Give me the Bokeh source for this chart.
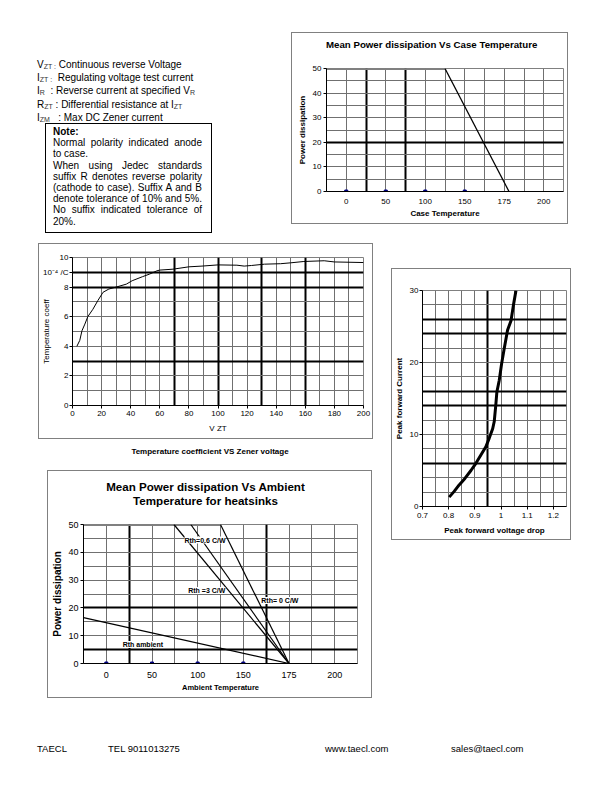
import numpy as np
from bokeh.plotting import figure
from bokeh.models import FixedTicker, Grid, Label, Spacer, Div, Range1d
from bokeh.layouts import row, column
from bokeh.embed import file_html
from bokeh.resources import INLINE

FONT = "Liberation Sans"

# ---------------- data ----------------
# Chart 1: Mean power dissipation vs case temperature (Excel category axis)
case_title = "Mean Power dissipation Vs Case Temperature"
case_categories = [0, 50, 100, 150, 175, 200]
case_flat_temp = [-25, 125]
case_flat_power = [50, 50]
case_derate_temp = [125, 178]
case_derate_power = [50, 0]
zero_temp = [0, 50, 100, 150]
zero_power = [0, 0, 0, 0]
case_y_ticks = [0, 10, 20, 30, 40, 50]
case_thick_temp = [25, 75]
case_thick_power = [20]

# Chart 2: Temperature coefficient vs Zener voltage
vzt = [3, 5, 6.5, 8.5, 10.5, 14, 17.5, 21, 25, 30, 37, 41, 48, 53, 58, 60,
       69, 80, 89, 100, 113, 118, 123, 132, 143, 150, 159, 173, 180, 200]
tcoef = [4.0, 4.4, 5.05, 5.5, 6.0, 6.5, 7.1, 7.65, 7.87, 8.0, 8.2, 8.43, 8.7,
         8.88, 9.1, 9.15, 9.21, 9.37, 9.42, 9.5, 9.48, 9.42, 9.46, 9.55, 9.58,
         9.64, 9.73, 9.78, 9.7, 9.66]
tc_x_ticks = [0, 20, 40, 60, 80, 100, 120, 140, 160, 180, 200]
tc_y_ticks = [0, 2, 4, 6, 8, 9, 10]
tc_y_labels = ["0", "2", "4", "6", "8", "10\u207b\u2074 /C", "10"]
tc_thick_x = [70, 100, 130, 160]
tc_thick_y = [3, 8, 9]

# Chart 3: Peak forward current vs forward voltage drop
vf = [0.802, 0.821, 0.840, 0.862, 0.885, 0.904, 0.923, 0.942, 0.955, 0.968,
      0.974, 0.980, 0.984, 0.993, 1.002, 1.012, 1.025, 1.038, 1.047, 1.057]
ifwd = [1.3, 2.1, 3.0, 3.9, 5.0, 6.0, 7.15, 8.3, 9.5, 10.8,
        11.8, 14.1, 15.9, 17.5, 19.8, 21.9, 24.5, 25.8, 27.9, 30.0]
vf_ticks = [0.7, 0.8, 0.9, 1.0, 1.1, 1.2]
vf_labels = ["0.7", "0.8", "0.9", "1", "1.1", "1.2"]
if_ticks = [0, 10, 20, 30]
vf_thick = [0.95]
if_thick = [6, 14, 16, 24, 26]

# Chart 4: Mean power dissipation vs ambient temperature for heatsinks
amb_title = ["Mean Power dissipation Vs Ambient", "Temperature for heatsinks"]
amb_categories = [0, 50, 100, 150, 175, 200]
amb_flat_temp = [-25, 125]
amb_flat_power = [50, 50]
rth0_temp = [125, 175]
rth0_power = [50, 0]
rth06_temp = [92.5, 175]
rth06_power = [50, 0]
rth3_temp = [74, 175]
rth3_power = [50, 0]
rthamb_temp = [-25, 175]
rthamb_power = [16.5, 0]
amb_label_text = ["Rth=0.6 C/W", "Rth =3 C/W", "Rth= 0 C/W", "Rth ambient"]
amb_label_temp = [108, 110, 170, 40]
amb_label_power = [44.4, 26.3, 22.7, 6.8]
amb_y_ticks = [0, 10, 20, 30, 40, 50]
amb_thick_temp = [25, 162.5]
amb_thick_power = [5, 20]


def cat_index(temps, cats):
    t = np.asarray(temps, dtype=float)
    c = np.asarray(cats, dtype=float)
    pos = np.arange(len(c), dtype=float)
    idx = np.interp(t, c, pos)
    lo = t < c[0]
    idx[lo] = (t[lo] - c[0]) / (c[1] - c[0])
    hi = t > c[-1]
    idx[hi] = pos[-1] + (t[hi] - c[-1]) / (c[-1] - c[-2])
    return idx


BOX = {"outline": "1px solid #808080", "outline-offset": "-1px"}


def base_fig(w, h, xr, yr, bl, br, bt, bb, boxed=True):
    p = figure(width=w, height=h, x_range=xr, y_range=yr, title=None,
               output_backend="svg", toolbar_location=None,
               min_border_left=bl, min_border_right=br,
               min_border_top=bt, min_border_bottom=bb, margin=0)
    p.grid.visible = False
    p.outline_line_color = "#808080"
    p.outline_line_width = 1
    p.background_fill_color = "white"
    p.border_fill_color = None
    if boxed:
        p.styles = dict(BOX)
    for ax in (p.xaxis[0], p.yaxis[0]):
        ax.axis_line_color = "black"
        ax.major_tick_line_color = "black"
        ax.minor_tick_line_color = None
        ax.major_tick_in = 0
        ax.major_tick_out = 3
        ax.major_label_text_font = FONT
        ax.major_label_text_font_size = "8px"
        ax.major_label_text_color = "black"
        ax.axis_label_text_font = FONT
        ax.axis_label_text_font_size = "8px"
        ax.axis_label_text_font_style = "bold"
        ax.axis_label_text_color = "black"
    return p


def add_grid(p, dim, ticks, color, width):
    g = Grid(dimension=dim, ticker=FixedTicker(ticks=[float(t) for t in ticks]),
             grid_line_color=color, grid_line_width=width)
    p.add_layout(g)


THIN = "#707070"
THICK = "black"

# ---------------- Chart 1 ----------------
n1 = len(case_categories)
p1 = base_fig(277, 170, Range1d(-0.5, n1 - 0.5), Range1d(0, 50), 35, 5, 14, 33, boxed=False)
half = np.arange(0, n1 - 0.9, 0.5)
thick1 = cat_index(case_thick_temp, case_categories)
add_grid(p1, 0, [h for h in half if not np.any(np.isclose(h, thick1))], THIN, 1)
add_grid(p1, 0, thick1, THICK, 2)
add_grid(p1, 1, [v for v in range(5, 50, 5) if v not in case_thick_power], THIN, 1)
add_grid(p1, 1, case_thick_power, THICK, 2)
p1.xaxis.ticker = FixedTicker(ticks=list(range(n1)))
p1.xaxis.major_label_overrides = {i: str(c) for i, c in enumerate(case_categories)}
p1.xaxis.major_tick_out = 0
p1.xaxis.major_label_standoff = 7
p1.xaxis.axis_label = "Case Temperature"
p1.xaxis.axis_label_standoff = 2
p1.yaxis.ticker = FixedTicker(ticks=case_y_ticks)
p1.yaxis.major_label_standoff = 2
p1.yaxis.axis_label = "Power dissipation"
p1.yaxis.axis_label_standoff = 3
p1.line(cat_index(case_flat_temp, case_categories), case_flat_power, line_color="#808080", line_width=3)
p1.line(cat_index(case_derate_temp, case_categories), case_derate_power, line_color="black", line_width=1.3)
zx1 = cat_index(zero_temp, case_categories)
p1.line(zx1, zero_power, line_color="#000080", line_width=1)
p1.scatter(zx1, zero_power, marker="square", size=3, color="#000080")
t1_div = Div(text=(f"<div style=\"position:relative;width:277px;height:22px;font-family:'{FONT}',Arial,sans-serif;\">"
                   "<div style='position:absolute;left:35px;top:7px;line-height:12px;white-space:nowrap;"
                   f"font-size:9.7px;font-weight:bold;color:#000;'>{case_title}</div></div>"),
             width=277, height=22, margin=0)
chart1 = column(t1_div, p1, margin=0, styles=dict(BOX))

# ---------------- Chart 2 ----------------
p2 = base_fig(335, 196, Range1d(0, 200), Range1d(0, 10), 31, 10, 14, 34)
add_grid(p2, 0, [v for v in range(10, 200, 10) if v not in tc_thick_x], THIN, 1)
add_grid(p2, 0, tc_thick_x, THICK, 2)
add_grid(p2, 1, [v for v in range(1, 10) if v not in tc_thick_y], THIN, 1)
add_grid(p2, 1, tc_thick_y, THICK, 2)
p2.xaxis.ticker = FixedTicker(ticks=tc_x_ticks)
p2.xaxis.major_label_standoff = 2
p2.xaxis.axis_label = "V ZT"
p2.xaxis.axis_label_text_font_style = "normal"
p2.xaxis.axis_label_standoff = 5
p2.yaxis.ticker = FixedTicker(ticks=tc_y_ticks)
p2.yaxis.major_label_overrides = {t: lab for t, lab in zip(tc_y_ticks, tc_y_labels)}
p2.yaxis.major_label_standoff = 1
p2.yaxis.axis_label = "Temperature coeff"
p2.yaxis.axis_label_text_font_style = "normal"
p2.yaxis.axis_label_standoff = -11
p2.line(vzt, tcoef, line_color="black", line_width=1)

# ---------------- Chart 3 ----------------
p3 = base_fig(180, 272, Range1d(0.7, 1.25), Range1d(0, 30), 31, 5, 22, 34)
vgrid = [round(0.7 + 0.05 * k, 2) for k in range(1, 11)]
add_grid(p3, 0, [v for v in vgrid if v not in vf_thick], THIN, 1)
add_grid(p3, 0, vf_thick, THICK, 2)
add_grid(p3, 1, [v for v in range(2, 30, 2) if v not in if_thick], THIN, 1)
add_grid(p3, 1, if_thick, THICK, 2)
p3.xaxis.ticker = FixedTicker(ticks=vf_ticks)
p3.xaxis.major_label_overrides = {t: lab for t, lab in zip(vf_ticks, vf_labels)}
p3.xaxis.major_label_standoff = 3
p3.xaxis.axis_label = "Peak forward voltage drop"
p3.xaxis.axis_label_standoff = 5
p3.yaxis.ticker = FixedTicker(ticks=if_ticks)
p3.yaxis.major_label_standoff = 1
p3.yaxis.axis_label = "Peak forward Current"
p3.yaxis.axis_label_standoff = 3
p3.line(vf, ifwd, line_color="black", line_width=3)

# ---------------- Chart 4 ----------------
n4 = len(amb_categories)
p4 = base_fig(325, 188, Range1d(-0.5, n4 - 0.5), Range1d(0, 50), 36, 15, 14, 35, boxed=False)
thick4 = cat_index(amb_thick_temp, amb_categories)
half4 = np.arange(0, n4 - 0.9, 0.5)
add_grid(p4, 0, [h for h in half4 if not np.any(np.isclose(h, thick4))], THIN, 1)
add_grid(p4, 0, thick4, THICK, 2)
add_grid(p4, 1, [v for v in range(5, 50, 5) if v not in amb_thick_power], THIN, 1)
add_grid(p4, 1, amb_thick_power, THICK, 2)
p4.xaxis.ticker = FixedTicker(ticks=list(range(n4)))
p4.xaxis.major_label_overrides = {i: str(c) for i, c in enumerate(amb_categories)}
p4.xaxis.major_tick_out = 0
p4.xaxis.major_label_standoff = 8
p4.xaxis.major_label_text_font_size = "9px"
p4.xaxis.axis_label = "Ambient Temperature"
p4.xaxis.axis_label_standoff = 2
p4.xaxis.axis_label_text_font_size = "7.5px"
p4.yaxis.ticker = FixedTicker(ticks=amb_y_ticks)
p4.yaxis.major_label_standoff = 2
p4.yaxis.major_label_text_font_size = "9px"
p4.yaxis.axis_label = "Power dissipation"
p4.yaxis.axis_label_text_font_size = "10px"
p4.yaxis.axis_label_standoff = 2
p4.line(cat_index(amb_flat_temp, amb_categories), amb_flat_power, line_color="#808080", line_width=3)
for tt, pp in [(rth0_temp, rth0_power), (rth06_temp, rth06_power), (rth3_temp, rth3_power), (rthamb_temp, rthamb_power)]:
    p4.line(cat_index(tt, amb_categories), pp, line_color="black", line_width=1.2)
zx4 = cat_index(zero_temp, amb_categories)
p4.line(zx4, zero_power, line_color="#000080", line_width=1)
p4.scatter(zx4, zero_power, marker="square", size=3, color="#000080")
for txt, tx, py in zip(amb_label_text, cat_index(amb_label_temp, amb_categories), amb_label_power):
    p4.add_layout(Label(x=tx, y=py, text=txt, text_font=FONT, text_font_size="7px",
                        text_font_style="bold", text_align="center", text_baseline="middle",
                        background_fill_color="white", text_color="black"))
t4_div = Div(text=(f"<div style=\"position:relative;width:325px;height:40px;font-family:'{FONT}',Arial,sans-serif;\">"
                   "<div style='position:absolute;left:0px;top:10px;width:317px;text-align:center;line-height:14px;"
                   f"white-space:nowrap;font-size:11.6px;font-weight:bold;color:#000;'>{amb_title[0]}<br>{amb_title[1]}</div></div>"),
             width=325, height=40, margin=0)
chart4 = column(t4_div, p4, margin=0, styles=dict(BOX))

# ---------------- text blocks ----------------
SUB = "font-size:7px;vertical-align:-1px;color:#333;"
defs_html = (
    f"V<span style='{SUB}'>ZT :</span> Continuous reverse Voltage<br>"
    f"I<span style='{SUB}'>ZT :</span>&nbsp; Regulating voltage test current<br>"
    f"I<span style='{SUB}'>R</span>&nbsp; : Reverse current at specified V<span style='{SUB}'>R</span><br>"
    f"R<span style='{SUB}'>ZT</span> : Differential resistance at I<span style='{SUB}'>ZT</span><br>"
    f"I<span style='{SUB}'>ZM</span>&nbsp;&nbsp; : Max DC Zener current"
)
note_lines = [
    ("Note:", "left", True),
    ("Normal polarity indicated anode", "justify", False),
    ("to case.", "left", False),
    ("When using Jedec standards", "justify", False),
    ("suffix R denotes reverse polarity", "justify", False),
    ("(cathode to case). Suffix A and B", "justify", False),
    ("denote tolerance of 10% and 5%.", "justify", False),
    ("No suffix indicated tolerance of", "justify", False),
    ("20%.", "left", False),
]
note_html = "".join(
    f"<div style='text-align:{al};text-align-last:{al};white-space:nowrap;"
    f"font-weight:{'bold' if b else 'normal'};'>{t}</div>"
    for t, al, b in note_lines
)
top_html = (
    f"<div style=\"position:relative;box-sizing:border-box;width:283px;height:235px;"
    f"font-family:'{FONT}',Arial,sans-serif;font-size:10px;color:#000;\">"
    f"<div style='position:absolute;left:29px;top:51px;line-height:11.2px;white-space:nowrap;'>{defs_html}</div>"
    "<div style='position:absolute;box-sizing:border-box;left:37px;top:115px;width:167px;height:110px;"
    f"border:1px solid #000;padding:2px 9px 1px 7px;line-height:11.2px;'>{note_html}</div>"
    "</div>"
)
top_div = Div(text=top_html, width=283, height=235, margin=0)

cap_div = Div(text=(f"<div style=\"position:relative;width:365px;height:31px;font-family:'{FONT}',Arial,sans-serif;\">"
                    "<div style='position:absolute;left:82px;top:7px;width:240px;text-align:center;"
                    "font-size:8px;font-weight:bold;'>Temperature coefficient VS Zener voltage</div></div>"),
              width=365, height=31, margin=0)

footer_items = [("TAECL", 29), ("TEL 9011013275", 100), ("www.taecl.com", 317), ("sales@taecl.com", 443)]
footer_html = (f"<div style=\"position:relative;width:590px;height:60px;font-family:'{FONT}',Arial,sans-serif;"
               "font-size:9.5px;color:#000;\">" +
               "".join(f"<div style='position:absolute;left:{x}px;top:44px;white-space:nowrap;'>{t}</div>"
                       for t, x in footer_items) + "</div>")
footer_div = Div(text=footer_html, width=590, height=60, margin=0)


def sp(w, h):
    return Spacer(width=w, height=h, margin=0)


# ---------------- layout ----------------
top_row = row(top_div, column(sp(277, 24), chart1, sp(277, 19), margin=0), margin=0)
left_col = column(row(sp(30, 196), p2, margin=0), cap_div,
                  row(sp(39, 228), chart4, margin=0), margin=0)
right_col = column(sp(198, 25), row(sp(18, 272), p3, margin=0), sp(198, 158), margin=0)
mid_row = row(left_col, right_col, margin=0)
body = column(sp(590, 8), top_row, mid_row, footer_div, margin=0)
page = row(sp(8, 766), body, margin=0)

open("out.html", "w").write(file_html(page, INLINE))
